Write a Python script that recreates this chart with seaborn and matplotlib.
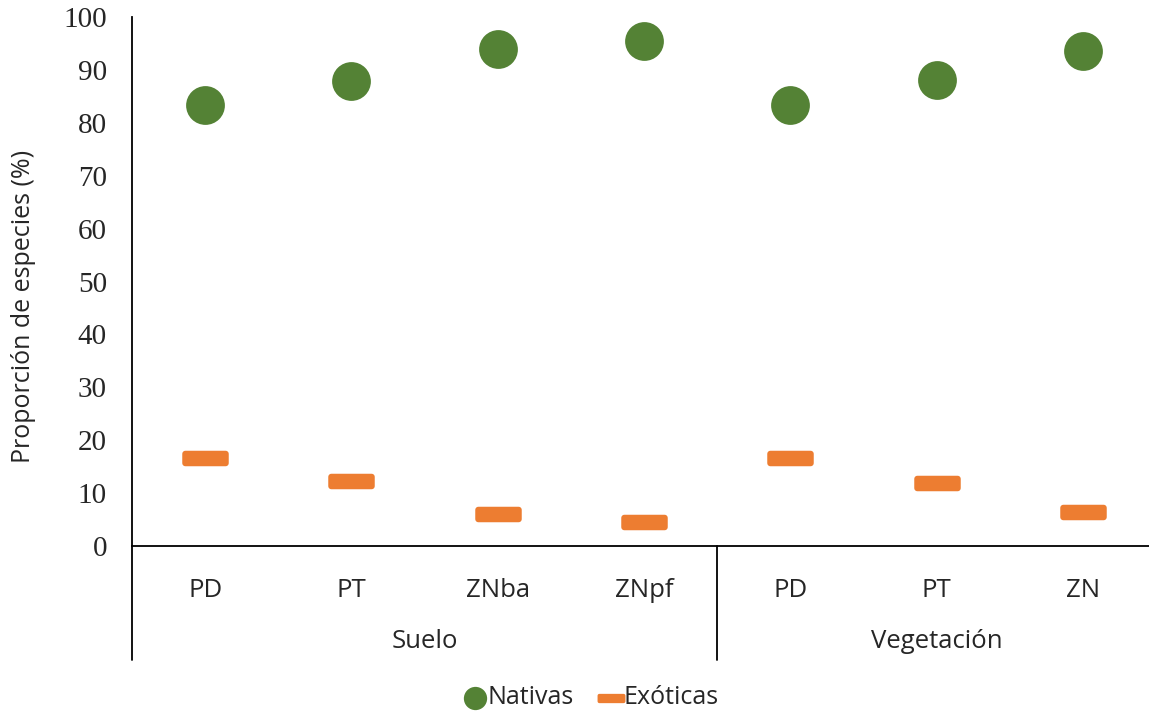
import matplotlib
matplotlib.use("Agg")
import matplotlib.pyplot as plt
import matplotlib.transforms as mtransforms
import numpy as np
import pandas as pd
import seaborn as sns

# Data
groups = ["Suelo", "Suelo", "Suelo", "Suelo", "Vegetación", "Vegetación", "Vegetación"]
sites = ["PD", "PT", "ZNba", "ZNpf", "PD", "PT", "ZN"]
nativas = [83.3, 87.9, 93.9, 95.5, 83.3, 88.1, 93.6]
exoticas = [16.7, 12.2, 6.1, 4.5, 16.7, 11.9, 6.4]

keys = [f"{g}-{s}" for g, s in zip(groups, sites)]
df = pd.DataFrame({
    "key": keys * 2,
    "valor": nativas + exoticas,
    "tipo": ["Nativas"] * len(keys) + ["Exóticas"] * len(keys),
})

sns.set_style("white")
plt.rcParams["font.family"] = ["Open Sans", "DejaVu Sans"]

green = "#548235"
orange = "#ED7D31"

# rounded rectangle marker (3:1)
def rounded_dash(w=3.0, h=1.0, r=0.2, n=6):
    pts = []
    corners = [(w / 2 - r, h / 2 - r, 0), (-w / 2 + r, h / 2 - r, 90),
               (-w / 2 + r, -h / 2 + r, 180), (w / 2 - r, -h / 2 + r, 270)]
    for cx, cy, a0 in corners:
        for t in np.linspace(a0, a0 + 90, n):
            pts.append((cx + r * np.cos(np.radians(t)), cy + r * np.sin(np.radians(t))))
    pts.append(pts[0])
    return pts

dash = rounded_dash()

fig = plt.figure(figsize=(11.49, 7.15), dpi=100)
ax = fig.add_axes([132 / 1149, 1 - 546 / 715, 1 - 132 / 1149, 529 / 715])

sns.scatterplot(data=df[df.tipo == "Nativas"], x="key", y="valor", ax=ax,
                color=green, s=780, marker="o", linewidth=0, label="Nativas")
sns.scatterplot(data=df[df.tipo == "Exóticas"], x="key", y="valor", ax=ax,
                color=orange, s=1120, marker=dash, linewidth=0, label="Exóticas")

ax.set_ylim(0, 100)
ax.set_xlim(-0.5, len(keys) - 0.55)
ax.set_yticks(np.arange(0, 101, 10))
ax.set_xticks(range(len(keys)))
ax.set_xticklabels(sites)
ax.tick_params(axis="x", length=0, pad=23, labelsize=18.5)
ax.tick_params(axis="y", length=0, pad=18, labelsize=21, labelfontfamily="Liberation Serif")
ax.set_xlabel("")
ax.set_ylabel("Proporción de especies (%)", fontsize=18)
ax.yaxis.set_label_coords(-0.094, 0.452)

for side in ["top", "right"]:
    ax.spines[side].set_visible(False)
for side in ["left", "bottom"]:
    ax.spines[side].set_color("black")
    ax.spines[side].set_linewidth(1.3)

# group separators below the axis
trans = mtransforms.blended_transform_factory(ax.transData, ax.transAxes)
low = -114 / 529
ax.plot([-0.5, -0.5], [0, low], transform=trans, color="black", lw=1.3, clip_on=False)
ax.plot([3.5, 3.5], [0, low], transform=trans, color="black", lw=1.3, clip_on=False)

# group labels
for name in ["Suelo", "Vegetación"]:
    idx = [i for i, g in enumerate(groups) if g == name]
    ax.text(np.mean(idx), -95 / 529, name, transform=trans, ha="center", va="center", fontsize=18.5)

ax.get_legend().remove()
h, l = ax.get_legend_handles_labels()
fig.legend(h, l, loc="center", bbox_to_anchor=(0.5 + 10 / 1149, 1 - 698 / 715), ncol=2,
           frameon=False, fontsize=18, handletextpad=-0.5, columnspacing=0.5, markerscale=0.6)

# make sure the y tick labels really use the serif face
fig.canvas.draw()
for t in ax.get_yticklabels():
    t.set_fontfamily("Liberation Serif")
    t.set_fontsize(21)

fig.savefig("out.png", dpi=100)
